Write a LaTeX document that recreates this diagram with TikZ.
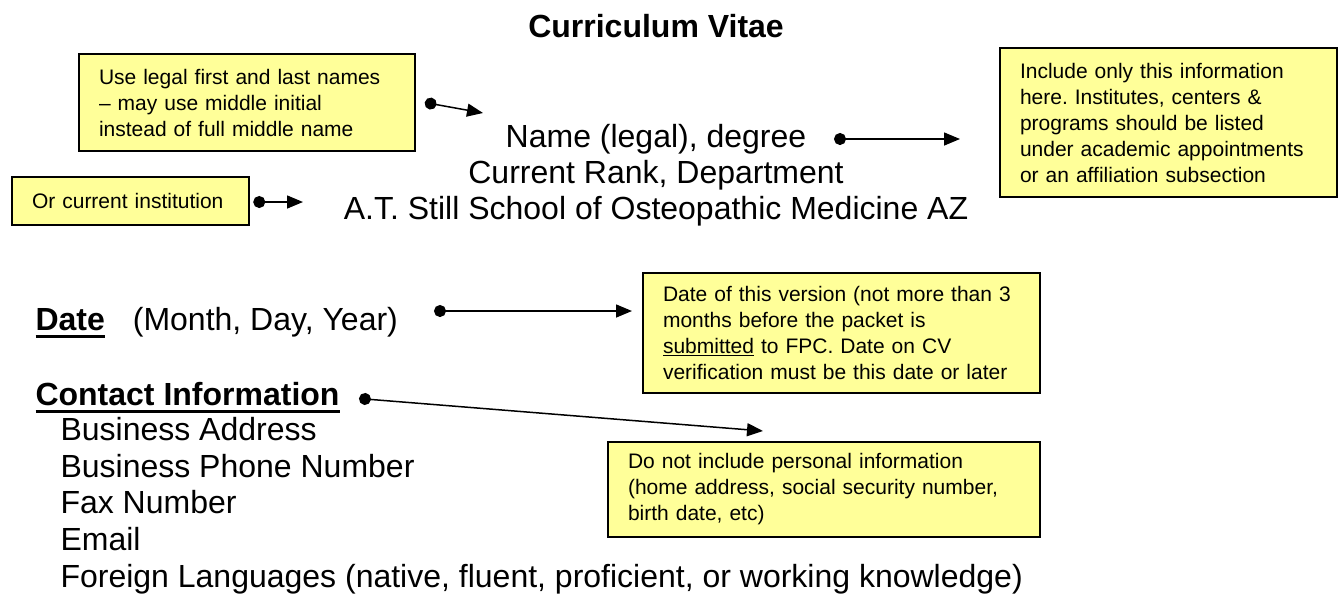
\documentclass[tikz,border=0pt]{standalone}
\usepackage{fontspec}
\setmainfont{Liberation Sans}
\usetikzlibrary{arrows.meta}
\definecolor{notefill}{HTML}{FFFF99}
\newcommand{\hd}[1]{\setbox0=\hbox{\textbf{#1}}\rlap{\rule[-7.5pt]{\wd0}{3pt}}\box0}
\frenchspacing

\begin{document}
\begin{tikzpicture}[x=1pt, y=-1pt,
  big/.style={font=\fontsize{32}{36.5}\selectfont},
  note/.style={draw=black, line width=1.5pt, fill=notefill, align=left,
    inner xsep=20pt, font=\fontsize{21}{26}\selectfont},
  pointer/.style={line width=1.5pt, {Circle[length=12pt]}-{Triangle[length=16pt,width=13pt]}}]
\useasboundingbox (0,0) rectangle (1338,595);
\node[big, anchor=base] (title) at (656,37) {\textbf{Curriculum Vitae}};
\node[big, anchor=base] (name) at (656,147) {Name (legal), degree};
\node[big, anchor=base] (rank) at (656,183) {Current Rank, Department};
\node[big, anchor=base] (school) at (656,219) {A.T. Still School of Osteopathic Medicine AZ};
\node[note, text width=296pt, minimum height=97pt] (legal) at (247,102.5) {Use legal first and last names\\ -- may use middle initial\\ instead of full middle name};
\node[note, text width=197pt, minimum height=48pt] (inst) at (130.5,201) {Or current institution};
\node[note, text width=297pt, minimum height=149pt] (only) at (1168.5,122.5) {Include only this information\\ here. Institutes, centers \&\\ programs should be listed\\ under academic appointments\\ or an affiliation subsection};
\node[big, anchor=base west] (date) at (32,330) {\hd{Date}\hspace{28pt}(Month, Day, Year)};
\node[note, text width=357pt, minimum height=120pt] (version) at (841.5,333) {Date of this version (not more than 3\\ months before the packet is\\ \underline{submitted} to FPC. Date on CV\\ verification must be this date or later};
\node[big, anchor=base west] (contact) at (32,405) {\hd{Contact Information}};
\node[big, anchor=base west] (address) at (57,440) {Business Address};
\node[big, anchor=base west] (phone) at (57,477) {Business Phone Number};
\node[big, anchor=base west] (fax) at (57,513) {Fax Number};
\node[big, anchor=base west] (email) at (57,550) {Email};
\node[big, anchor=base west] (lang) at (57,587) {Foreign Languages (native, fluent, proficient, or working knowledge)};
\node[note, text width=392pt, minimum height=95pt] (personal) at (824,489.5) {Do not include personal information\\ (home address, social security number,\\ birth date, etc)};
% pointers
\coordinate (legaltip) at (483,113);
\coordinate (insttip) at (303,202);
\coordinate (namedot) at (834,139);
\coordinate (nametip) at (960,139);
\coordinate (datedot) at (434,311);
\coordinate (datetip) at (632,311);
\coordinate (contactdot) at (359,398.5);
\coordinate (contacttip) at (763,431);
\draw[pointer] ([xshift=9pt]legal.east) -- (legaltip);
\draw[pointer] ([xshift=3.5pt,yshift=-1pt]inst.east) -- (insttip);
\draw[pointer] (namedot) -- (nametip);
\draw[pointer] (datedot) -- (datetip);
\draw[pointer] (contactdot) -- (contacttip);
\end{tikzpicture}
\end{document}
